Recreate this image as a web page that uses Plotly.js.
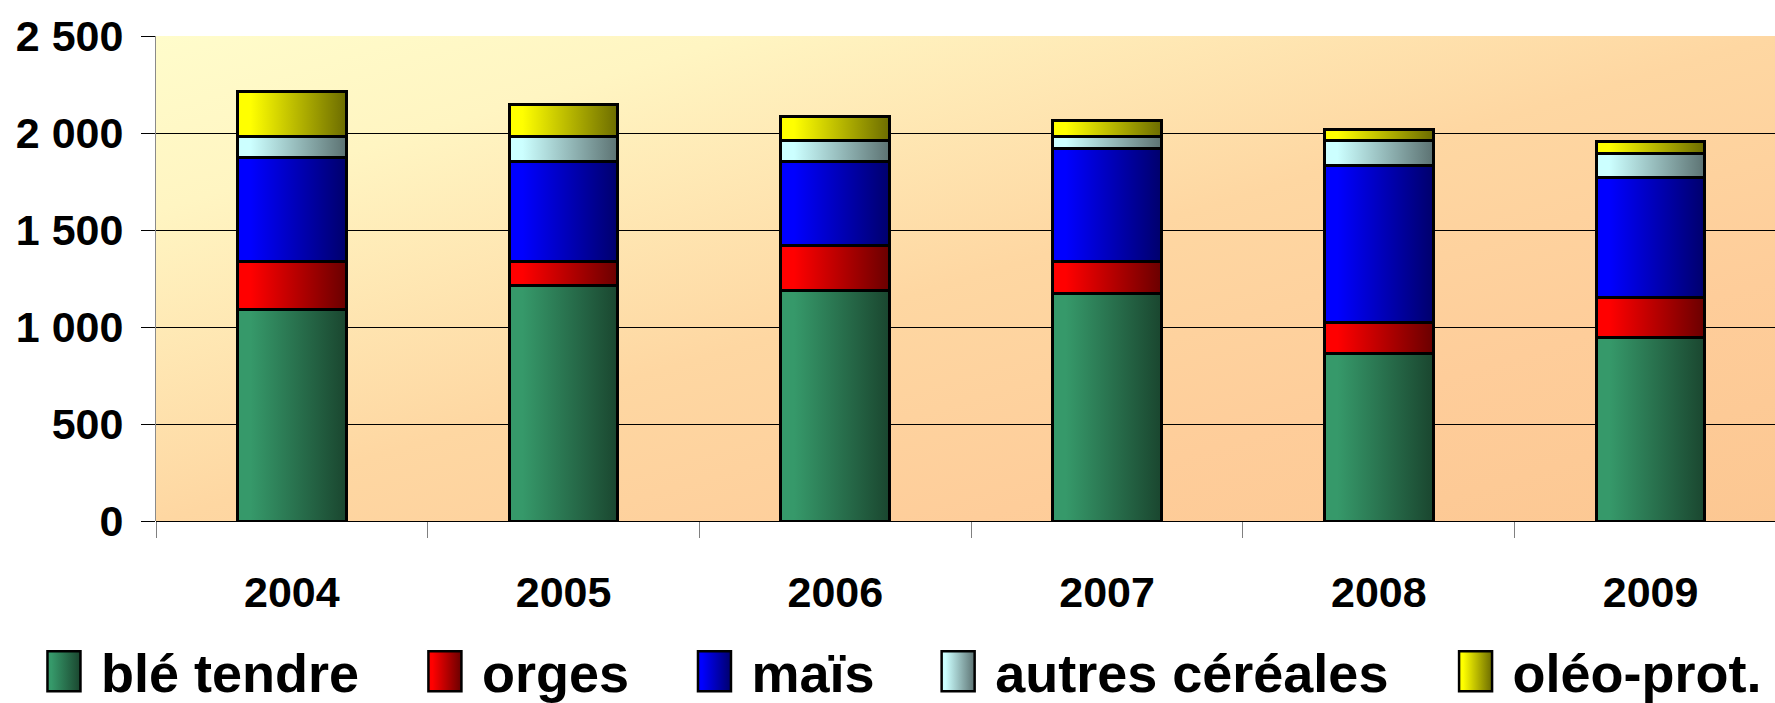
<!DOCTYPE html>
<html>
<head>
<meta charset="utf-8">
<script src="https://cdn.plot.ly/plotly-3.0.1.min.js"></script>
<style>
html,body{margin:0;padding:0;background:#fff;}
#chart{width:1775px;height:703px;}
</style>
</head>
<body>
<div id="chart"></div>
<script>
// ---- data ----
const years = ['2004', '2005', '2006', '2007', '2008', '2009'];
const bleTendre = [1090, 1215, 1190, 1175, 865, 945];
const orges = [250, 125, 230, 165, 160, 205];
const mais = [535, 515, 435, 580, 810, 620];
const autresCereales = [105, 125, 105, 60, 125, 125];
const oleoProt = [233, 165, 125, 85, 60, 60];
const seriesNames = ['blé tendre', 'orges', 'maïs', 'autres céréales', 'oléo-prot.'];
const yTickVals = [0, 500, 1000, 1500, 2000, 2500];
const yTickText = ['0', '500', '1 000', '1 500', '2 000', '2 500'];

// ---- styles ----
const gradLeft = ['#36996A', '#FF0000', '#0000FF', '#CCFFFF', '#FFFF00'];
const gradRight = ['#1A462F', '#6A0000', '#00006C', '#5C7272', '#6C6C00'];
const legendX = [-0.0797, 0.1556, 0.3221, 0.4726, 0.7922];
const FONT = 'Liberation Sans, Arial, Helvetica, sans-serif';

const seriesValues = [bleTendre, orges, mais, autresCereales, oleoProt];
const legendIds = ['legend', 'legend2', 'legend3', 'legend4', 'legend5'];

const traces = seriesValues.map((vals, i) => ({
  type: 'bar',
  name: seriesNames[i],
  x: years,
  y: vals,
  legend: legendIds[i],
  marker: {color: gradLeft[i], line: {color: '#000', width: 3}},
  hoverinfo: 'skip'
}));

const layout = {
  width: 1775,
  height: 703,
  margin: {l: 156, r: 0, t: 36, b: 182, autoexpand: false},
  paper_bgcolor: '#ffffff',
  plot_bgcolor: '#FEE6B2',
  barmode: 'stack',
  bargap: 0.6,
  font: {family: FONT, color: '#000', weight: 'bold'},
  xaxis: {
    type: 'category',
    range: [-0.5, 5.458],
    tickson: 'boundaries',
    ticks: 'outside',
    ticklen: 16,
    tickwidth: 1,
    tickcolor: '#808080',
    showgrid: false,
    showline: false,
    zeroline: false,
    automargin: false,
    tickfont: {family: FONT, size: 43, color: '#000', weight: 'bold'},
    ticklabelstandoff: 42
  },
  yaxis: {
    range: [0, 2500],
    tickvals: yTickVals,
    ticktext: yTickText,
    ticks: 'outside',
    ticklen: 14,
    tickwidth: 1,
    tickcolor: '#000',
    showgrid: true,
    gridcolor: '#000',
    gridwidth: 1,
    showline: true,
    linecolor: '#8a8a8a',
    linewidth: 1,
    zeroline: true,
    zerolinecolor: '#000',
    zerolinewidth: 1,
    automargin: false,
    tickfont: {family: FONT, size: 43, color: '#000', weight: 'bold'},
    ticklabelstandoff: 9
  },
  showlegend: true
};

legendIds.forEach((id, i) => {
  layout[id] = {
    orientation: 'h',
    x: legendX[i],
    xanchor: 'left',
    y: -0.3107,
    yanchor: 'middle',
    itemwidth: 64,
    bgcolor: 'rgba(0,0,0,0)',
    borderwidth: 0,
    font: {family: FONT, size: 54, color: '#000', weight: 'bold'}
  };
});

const NS = 'http://www.w3.org/2000/svg';
function makeGrad(defs, id, stops, x2, y2) {
  const g = document.createElementNS(NS, 'linearGradient');
  g.setAttribute('id', id);
  g.setAttribute('x1', '0'); g.setAttribute('y1', '0');
  g.setAttribute('x2', x2); g.setAttribute('y2', y2);
  stops.forEach(s => {
    const st = document.createElementNS(NS, 'stop');
    st.setAttribute('offset', s[0]);
    st.setAttribute('stop-color', s[1]);
    g.appendChild(st);
  });
  defs.appendChild(g);
}

function decorate(gd) {
  const svg = gd.querySelector('.main-svg');
  let defs = svg.querySelector('defs');
  if (!defs) { defs = document.createElementNS(NS, 'defs'); svg.insertBefore(defs, svg.firstChild); }
  if (!document.getElementById('bgGrad')) {
    makeGrad(defs, 'bgGrad', [[0, '#FFFCCB'], [0.18, '#FFF5C2'], [0.5, '#FED7A2'], [0.75, '#FECD9A'], [1, '#FCC792']], '1', '1');
    gradLeft.forEach((c, i) => makeGrad(defs, 'barGrad' + i, [[0, c], [0.12, c], [1, gradRight[i]]], '1', '0'));
  }
  const bg = gd.querySelector('.bglayer .bg') || gd.querySelector('rect.bg');
  if (bg) bg.style.fill = 'url(#bgGrad)';

  gd.querySelectorAll('path.ygrid').forEach(p => {
    const d = p.__data__;
    if (d && d.x === 2500) p.style.display = 'none';
  });

  gd.querySelectorAll('.barlayer .trace').forEach((t, i) => {
    t.querySelectorAll('.point path').forEach(p => { p.style.fill = 'url(#barGrad' + i + ')'; });
  });

  gd.querySelectorAll('.legendpoints path').forEach(p => {
    let name = '';
    let node = p;
    while (node && node !== gd) {
      if (node.classList && node.classList.contains('traces') && node.__data__) {
        const d = node.__data__;
        if (d[0] && d[0].trace) name = d[0].trace.name;
        break;
      }
      node = node.parentNode;
    }
    const idx = seriesNames.indexOf(name);
    p.setAttribute('d', 'M16.5,20H-16.5V-20H16.5Z');
    if (idx >= 0) p.style.fill = 'url(#barGrad' + idx + ')';
    p.style.stroke = '#000';
    p.style.strokeWidth = '2.5px';
  });
}

Plotly.newPlot('chart', traces, layout, {staticPlot: true, displayModeBar: false}).then(gd => {
  decorate(gd);
  setTimeout(() => decorate(gd), 50);
});
</script>
</body>
</html>
